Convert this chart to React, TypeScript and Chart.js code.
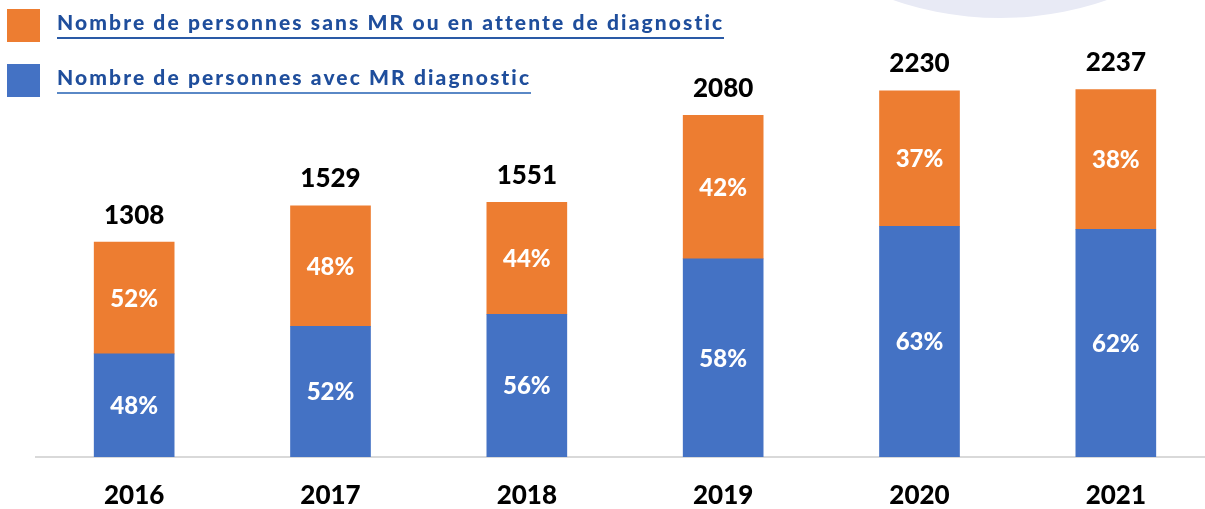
import React, { useEffect, useRef } from "react";
import { Chart, registerables } from "chart.js";

Chart.register(...registerables);

const years = ["2016", "2017", "2018", "2019", "2020", "2021"];
const totals = [1308, 1529, 1551, 2080, 2230, 2237];
const diagnosed = [628, 795, 869, 1206, 1405, 1387];
const undiagnosed = [680, 734, 682, 874, 825, 850];
const diagnosedPct = ["48%", "52%", "56%", "58%", "63%", "62%"];
const undiagnosedPct = ["52%", "48%", "44%", "42%", "37%", "38%"];
const legendLabels = [
  "Nombre de personnes sans MR ou en attente de diagnostic",
  "Nombre de personnes avec MR diagnostic",
];

const ORANGE = "#ed7d31";
const BLUE = "#4472c4";

const labelPlugin = {
  id: "labels",
  afterDatasetsDraw(chart: any) {
    const ctx = chart.ctx;
    ctx.save();
    ctx.textAlign = "center";
    ctx.textBaseline = "middle";
    const pcts = [diagnosedPct, undiagnosedPct];
    chart.data.datasets.forEach((ds: any, di: number) => {
      const meta = chart.getDatasetMeta(di);
      meta.data.forEach((bar: any, i: number) => {
        const mid = (bar.y + bar.base) / 2;
        ctx.fillStyle = "#ffffff";
        ctx.font = "900 24px Lato";
        ctx.fillText(pcts[di][i], bar.x, mid + 1);
        if (di === 1) {
          ctx.fillStyle = "#000000";
          ctx.font = "900 26px Lato";
          ctx.fillText(String(totals[i]), bar.x, bar.y - 27);
        }
      });
    });
    ctx.restore();
  },
};

export default function App() {
  const ref = useRef<HTMLCanvasElement>(null);
  useEffect(() => {
    const chart = new Chart(ref.current!, {
      type: "bar",
      data: {
        labels: years,
        datasets: [
          { label: legendLabels[1], data: diagnosed, backgroundColor: BLUE, barThickness: 80 },
          { label: legendLabels[0], data: undiagnosed, backgroundColor: ORANGE, barThickness: 80 },
        ],
      },
      options: {
        animation: false,
        responsive: false,
        layout: { padding: { left: 36, right: 16, top: 30, bottom: 0 } },
        plugins: { legend: { display: false }, tooltip: { enabled: false } },
        scales: {
          x: {
            stacked: true,
            grid: { display: false },
            border: { display: true, color: "#d9d9d9", width: 2 },
            ticks: {
              color: "#000",
              padding: 18,
              font: { family: "Lato", weight: "900", size: 26, lineHeight: 1 },
            },
            afterFit: (axis: any) => {
              axis.height = 52;
            },
          },
          y: { stacked: true, display: false, min: 0, max: 2600 },
        },
      },
      plugins: [labelPlugin],
    });
    return () => chart.destroy();
  }, []);

  const legendText: React.CSSProperties = {
    position: "absolute",
    left: 57,
    fontFamily: "Lato",
    fontWeight: 900,
    fontSize: 21,
    letterSpacing: 2.1,
    color: "#1f4e9c",
    whiteSpace: "nowrap",
    lineHeight: "24px",
    paddingBottom: 3,
  };

  return (
    <div style={{ position: "fixed", left: 0, top: 0, width: 1205, height: 509, overflow: "hidden", background: "#fff" }}>
      <div style={{ position: "absolute", left: 673, top: -636, width: 654, height: 654, borderRadius: "50%", background: "#e8eaf5" }} />
      <canvas ref={ref} width={1230} height={509} style={{ position: "absolute", left: 0, top: 0 }} />
      <div style={{ position: "absolute", left: 7, top: 9, width: 33, height: 33, background: ORANGE }} />
      <div style={{ position: "absolute", left: 7, top: 64, width: 33, height: 33, background: BLUE }} />
      <div style={{ ...legendText, top: 10, borderBottom: "2px solid #2a5aa6" }}>{legendLabels[0]}</div>
      <div style={{ ...legendText, top: 65, borderBottom: "2px solid #5a88c6" }}>{legendLabels[1]}</div>
    </div>
  );
}
